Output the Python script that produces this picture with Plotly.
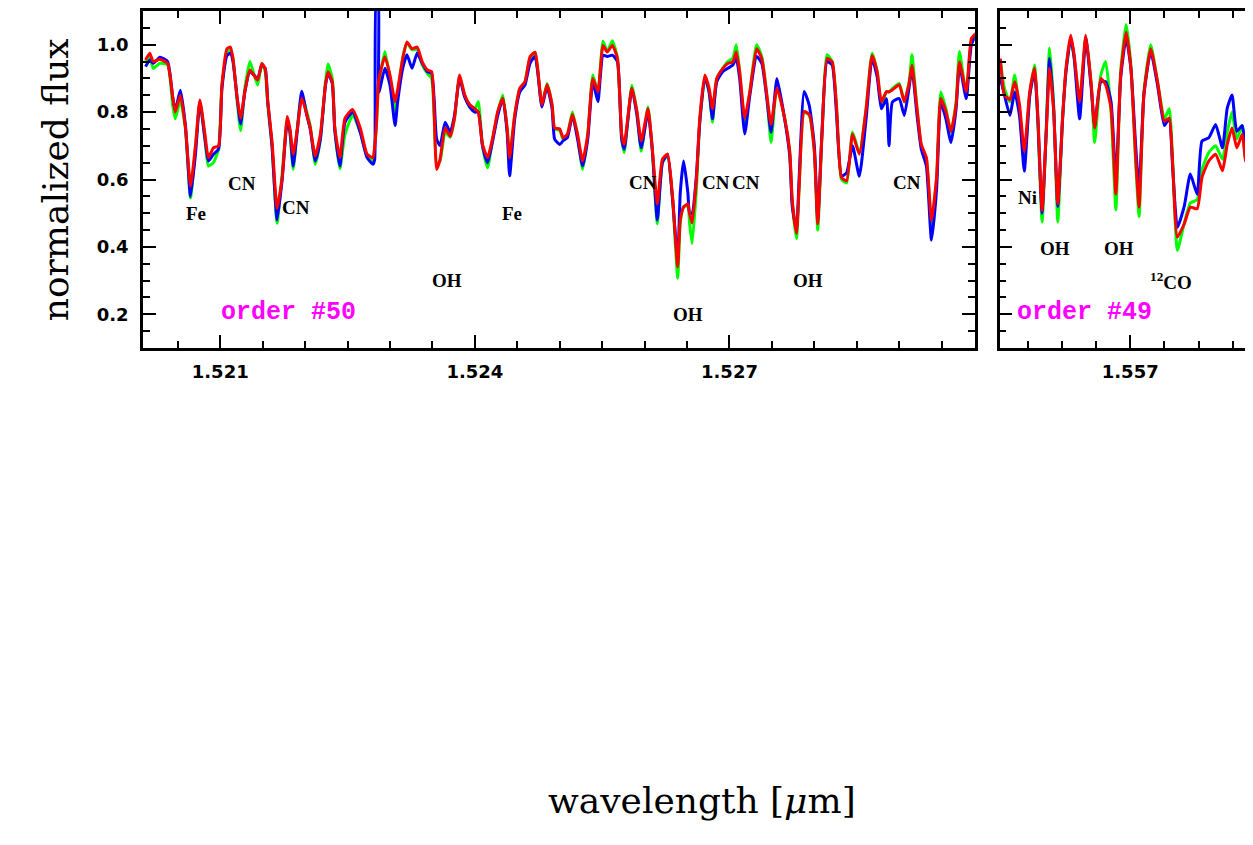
import plotly.graph_objects as go

# ---------------- order #50 ----------------
wl50 = [1.52012, 1.52017, 1.52021, 1.52029, 1.52038, 1.52044, 1.52047, 1.52053, 1.52059, 1.52065,
        1.52071, 1.52076, 1.52082, 1.52086, 1.52092, 1.52098, 1.52102, 1.52108, 1.52112, 1.52115,
        1.52120, 1.52124, 1.52129, 1.52135, 1.52144, 1.52149, 1.52153, 1.52156, 1.52161, 1.52167,
        1.52173, 1.52179, 1.52182, 1.52186, 1.52191, 1.52196, 1.52202, 1.52206, 1.52212, 1.52218,
        1.52224, 1.52227, 1.52232, 1.52235, 1.52241, 1.52247, 1.52256, 1.52265, 1.52273, 1.52280,
        1.52282, 1.52284, 1.52286, 1.52287, 1.52294, 1.52300, 1.52306, 1.52309, 1.52315, 1.52320,
        1.52326, 1.52332, 1.52338, 1.52344, 1.52349, 1.52352, 1.52355, 1.52359, 1.52365, 1.52371,
        1.52376, 1.52382, 1.52388, 1.52394, 1.52400, 1.52404, 1.52409, 1.52415, 1.52421, 1.52427,
        1.52433, 1.52438, 1.52441, 1.52447, 1.52453, 1.52459, 1.52465, 1.52471, 1.52474, 1.52479,
        1.52485, 1.52491, 1.52494, 1.52500, 1.52504, 1.52509, 1.52515, 1.52521, 1.52527, 1.52533,
        1.52539, 1.52545, 1.52551, 1.52556, 1.52562, 1.52568, 1.52573, 1.52576, 1.52585, 1.52591,
        1.52596, 1.52604, 1.52609, 1.52615, 1.52621, 1.52627, 1.52633, 1.52639, 1.52642, 1.52646,
        1.52651, 1.52653, 1.52656, 1.52661, 1.52665, 1.52671, 1.52676, 1.52680, 1.52685, 1.52692,
        1.52698, 1.52704, 1.52708, 1.52712, 1.52718, 1.52724, 1.52732, 1.52738, 1.52744, 1.52749,
        1.52756, 1.52765, 1.52771, 1.52774, 1.52779, 1.52782, 1.52788, 1.52794, 1.52800, 1.52804,
        1.52809, 1.52815, 1.52821, 1.52826, 1.52832, 1.52838, 1.52845, 1.52853, 1.52861, 1.52868,
        1.52874, 1.52879, 1.52885, 1.52888, 1.52892, 1.52900, 1.52906, 1.52912, 1.52915, 1.52921,
        1.52926, 1.52932, 1.52938, 1.52944, 1.52949, 1.52955, 1.52961, 1.52967, 1.52971, 1.52979,
        1.52985, 1.52991]

red50 = [0.955, 0.975, 0.950, 0.957, 0.944, 0.845, 0.800, 0.850, 0.755, 0.580,
         0.705, 0.836, 0.734, 0.665, 0.694, 0.700, 0.881, 0.988, 0.993, 0.959,
         0.841, 0.782, 0.861, 0.925, 0.895, 0.944, 0.929, 0.831, 0.714, 0.515,
         0.606, 0.787, 0.753, 0.675, 0.753, 0.841, 0.793, 0.753, 0.670, 0.734,
         0.881, 0.920, 0.890, 0.753, 0.665, 0.782, 0.808, 0.753, 0.675, 0.665,
         0.700, 0.760, 0.871, 0.900, 0.964, 0.910, 0.831, 0.866, 0.959, 1.008,
         0.988, 0.993, 0.949, 0.925, 0.920, 0.800, 0.630, 0.660, 0.753, 0.728,
         0.782, 0.910, 0.851, 0.822, 0.810, 0.800, 0.704, 0.665, 0.724, 0.802,
         0.841, 0.753, 0.665, 0.793, 0.871, 0.890, 0.964, 0.978, 0.930, 0.822,
         0.881, 0.822, 0.753, 0.750, 0.724, 0.734, 0.793, 0.734, 0.655, 0.734,
         0.900, 0.861, 0.998, 0.978, 0.998, 0.959, 0.734, 0.704, 0.871, 0.802,
         0.714, 0.810, 0.694, 0.528, 0.660, 0.675, 0.547, 0.341, 0.480, 0.518,
         0.528, 0.500, 0.470, 0.600, 0.782, 0.910, 0.871, 0.810, 0.900, 0.929,
         0.944, 0.949, 0.978, 0.920, 0.782, 0.861, 0.988, 0.959, 0.851, 0.763,
         0.871, 0.782, 0.684, 0.537, 0.440, 0.576, 0.802, 0.793, 0.684, 0.469,
         0.734, 0.959, 0.949, 0.822, 0.606, 0.596, 0.734, 0.675, 0.810, 0.968,
         0.920, 0.831, 0.861, 0.860, 0.866, 0.881, 0.831, 0.890, 0.939, 0.810,
         0.704, 0.665, 0.478, 0.606, 0.841, 0.802, 0.743, 0.822, 0.949, 0.861,
         1.018, 1.035]

green50 = [0.950, 0.965, 0.930, 0.945, 0.940, 0.820, 0.780, 0.835, 0.750, 0.545,
           0.700, 0.830, 0.720, 0.640, 0.650, 0.690, 0.880, 0.975, 0.985, 0.960,
           0.830, 0.745, 0.870, 0.950, 0.880, 0.945, 0.920, 0.820, 0.700, 0.470,
           0.620, 0.780, 0.740, 0.630, 0.760, 0.855, 0.800, 0.760, 0.645, 0.720,
           0.890, 0.943, 0.900, 0.750, 0.632, 0.734, 0.790, 0.740, 0.670, 0.655,
           0.700, 0.760, 0.870, 0.890, 0.980, 0.900, 0.800, 0.850, 0.960, 1.005,
           0.985, 0.985, 0.940, 0.915, 0.900, 0.790, 0.645, 0.655, 0.740, 0.725,
           0.780, 0.905, 0.850, 0.815, 0.810, 0.831, 0.700, 0.635, 0.720, 0.800,
           0.851, 0.750, 0.670, 0.790, 0.870, 0.890, 0.960, 0.975, 0.925, 0.820,
           0.885, 0.820, 0.750, 0.745, 0.720, 0.734, 0.800, 0.730, 0.630, 0.730,
           0.910, 0.860, 1.010, 0.980, 1.012, 0.960, 0.720, 0.680, 0.880, 0.800,
           0.684, 0.815, 0.690, 0.469, 0.650, 0.670, 0.540, 0.307, 0.470, 0.520,
           0.520, 0.470, 0.410, 0.570, 0.770, 0.900, 0.860, 0.770, 0.900, 0.930,
           0.950, 0.960, 1.000, 0.920, 0.770, 0.860, 1.000, 0.965, 0.850, 0.710,
           0.880, 0.780, 0.680, 0.530, 0.425, 0.570, 0.800, 0.790, 0.680, 0.450,
           0.730, 0.970, 0.950, 0.820, 0.600, 0.590, 0.740, 0.680, 0.810, 0.975,
           0.920, 0.820, 0.860, 0.860, 0.870, 0.885, 0.830, 0.895, 0.970, 0.810,
           0.700, 0.660, 0.470, 0.600, 0.860, 0.810, 0.740, 0.830, 0.980, 0.850,
           1.010, 1.030]

blue50 = [0.935, 0.955, 0.945, 0.963, 0.950, 0.845, 0.805, 0.865, 0.760, 0.550,
          0.680, 0.830, 0.720, 0.655, 0.675, 0.690, 0.870, 0.968, 0.975, 0.950,
          0.840, 0.765, 0.860, 0.920, 0.900, 0.940, 0.930, 0.830, 0.700, 0.480,
          0.600, 0.770, 0.745, 0.640, 0.750, 0.862, 0.790, 0.750, 0.655, 0.720,
          0.880, 0.915, 0.885, 0.745, 0.640, 0.770, 0.800, 0.740, 0.665, 0.645,
          0.660, 1.150, 1.150, 0.860, 0.930, 0.880, 0.760, 0.830, 0.930, 0.970,
          0.930, 0.975, 0.945, 0.920, 0.915, 0.840, 0.720, 0.700, 0.770, 0.740,
          0.790, 0.900, 0.845, 0.815, 0.800, 0.800, 0.700, 0.650, 0.715, 0.790,
          0.840, 0.740, 0.611, 0.780, 0.860, 0.880, 0.945, 0.965, 0.920, 0.815,
          0.875, 0.810, 0.720, 0.704, 0.715, 0.724, 0.790, 0.720, 0.640, 0.720,
          0.890, 0.831, 0.969, 0.965, 0.969, 0.950, 0.720, 0.690, 0.870, 0.790,
          0.694, 0.800, 0.690, 0.480, 0.650, 0.675, 0.540, 0.360, 0.560, 0.655,
          0.560, 0.500, 0.500, 0.610, 0.770, 0.905, 0.860, 0.780, 0.890, 0.920,
          0.930, 0.940, 0.960, 0.900, 0.735, 0.850, 0.965, 0.945, 0.840, 0.740,
          0.900, 0.780, 0.670, 0.520, 0.450, 0.600, 0.861, 0.820, 0.700, 0.480,
          0.740, 0.950, 0.940, 0.800, 0.610, 0.620, 0.700, 0.610, 0.780, 0.960,
          0.905, 0.810, 0.840, 0.700, 0.830, 0.840, 0.790, 0.880, 0.930, 0.790,
          0.690, 0.640, 0.420, 0.570, 0.830, 0.780, 0.710, 0.810, 0.940, 0.840,
          1.000, 1.030]

# ---------------- order #49 ----------------
wl49 = [1.55510, 1.55516, 1.55524, 1.55531, 1.55538, 1.55545, 1.55553, 1.55560, 1.55565, 1.55571,
        1.55577, 1.55582, 1.55588, 1.55594, 1.55601, 1.55606, 1.55613, 1.55618, 1.55626, 1.55635,
        1.55643, 1.55648, 1.55657, 1.55664, 1.55672, 1.55679, 1.55686, 1.55694, 1.55701, 1.55708,
        1.55713, 1.55720, 1.55730, 1.55740, 1.55750, 1.55757, 1.55762, 1.55769, 1.55779, 1.55788,
        1.55798, 1.55805, 1.55815, 1.55825, 1.55835, 1.55842, 1.55849, 1.55856, 1.55864, 1.55869,
        1.55875, 1.55883]

red49 = [0.959, 0.851, 0.837, 0.890, 0.822, 0.684, 0.861, 0.930, 0.782, 0.508,
         0.734, 0.930, 0.802, 0.528, 0.782, 0.930, 1.028, 0.969, 0.831, 1.028,
         0.881, 0.753, 0.900, 0.881, 0.810, 0.557, 0.910, 1.037, 0.930, 0.665,
         0.518, 0.851, 0.988, 0.890, 0.773, 0.782, 0.650, 0.429, 0.468, 0.518,
         0.513, 0.606, 0.655, 0.675, 0.626, 0.704, 0.753, 0.694, 0.734, 0.655,
         0.640, 0.630]

green49 = [0.950, 0.870, 0.830, 0.910, 0.800, 0.660, 0.850, 0.940, 0.760, 0.474,
           0.740, 0.990, 0.820, 0.474, 0.780, 0.920, 1.020, 0.960, 0.830, 1.020,
           0.880, 0.710, 0.910, 0.950, 0.800, 0.510, 0.920, 1.060, 0.940, 0.650,
           0.490, 0.860, 1.000, 0.890, 0.780, 0.810, 0.660, 0.390, 0.470, 0.530,
           0.540, 0.630, 0.680, 0.700, 0.660, 0.740, 0.800, 0.720, 0.760, 0.660,
           0.650, 0.640]

blue49 = [0.900, 0.850, 0.790, 0.860, 0.790, 0.625, 0.850, 0.920, 0.770, 0.500,
          0.740, 0.960, 0.810, 0.520, 0.780, 0.920, 1.020, 0.960, 0.780, 1.020,
          0.870, 0.760, 0.890, 0.890, 0.830, 0.600, 0.900, 1.020, 0.930, 0.700,
          0.570, 0.850, 0.980, 0.880, 0.760, 0.780, 0.640, 0.458, 0.520, 0.616,
          0.556, 0.714, 0.724, 0.763, 0.694, 0.812, 0.851, 0.743, 0.760, 0.680,
          0.650, 0.640]

# ---------------- labels ----------------
lab50_text = ["Fe", "CN", "CN", "OH", "Fe", "CN", "OH", "CN", "CN", "OH", "CN"]
lab50_x = [1.52071, 1.52126, 1.52189, 1.52367, 1.52444, 1.52598, 1.52651, 1.52684, 1.52720, 1.52792, 1.52909]
lab50_y = [0.499, 0.588, 0.518, 0.299, 0.499, 0.590, 0.199, 0.590, 0.590, 0.299, 0.590]

lab49_text = ["Ni", "OH", "OH", "<sup>12</sup>CO"]
lab49_x = [1.55549, 1.55590, 1.55683, 1.55759]
lab49_y = [0.546, 0.396, 0.396, 0.299]

order_text = ["order #50", "order #49"]
order_x = [1.52181, 1.55633]
order_y = [0.204, 0.204]

yticks = [0.2, 0.4, 0.6, 0.8, 1.0]

fig = go.Figure()
for wl, g, b, r, xa, ya in [(wl50, green50, blue50, red50, "x", "y"),
                            (wl49, green49, blue49, red49, "x2", "y2")]:
    for vals, col in [(g, "#00ff00"), (b, "#0000ff"), (r, "#ff0000")]:
        fig.add_trace(go.Scatter(x=wl, y=vals, mode="lines", xaxis=xa, yaxis=ya,
                                 line=dict(color=col, width=3, shape="spline", smoothing=0.5),
                                 showlegend=False, hoverinfo="skip"))

lab_font = dict(family="Liberation Serif", size=19, color="black", weight="bold")
for t, x, y in zip(lab50_text, lab50_x, lab50_y):
    fig.add_annotation(x=x, y=y, xref="x", yref="y", text=t, showarrow=False, font=lab_font)
for t, x, y in zip(lab49_text, lab49_x, lab49_y):
    fig.add_annotation(x=x, y=y, xref="x2", yref="y2", text=t, showarrow=False, font=lab_font)
order_font = dict(family="Liberation Mono", size=25, color="#ff00ff", weight="bold")
fig.add_annotation(x=order_x[0], y=order_y[0], xref="x", yref="y", text=order_text[0],
                   showarrow=False, font=order_font)
fig.add_annotation(x=order_x[1], y=order_y[1], xref="x2", yref="y2", text=order_text[1],
                   showarrow=False, font=order_font)

fig.add_annotation(x=-0.0984, y=0.5, xref="paper", yref="paper", text="normalized flux",
                   textangle=-90, showarrow=False,
                   font=dict(family="DejaVu Serif", size=36, color="black"))
fig.add_annotation(x=0.501, y=-1.41, xref="paper", yref="paper", text="wavelength [<i>μ</i>m]",
                   showarrow=False, font=dict(family="DejaVu Serif", size=36, color="black"))

tick_font = dict(family="DejaVu Sans", size=18, color="black", weight="bold")
common_x = dict(showline=True, linecolor="black", linewidth=2.5, mirror="allticks",
                ticks="inside", ticklen=13, tickwidth=2, tickcolor="black",
                tick0=1.521, dtick=0.003, tickformat=".3f", tickfont=tick_font,
                minor=dict(ticks="inside", ticklen=7, tickwidth=2, tickcolor="black", dtick=0.0005),
                showgrid=False, zeroline=False, ticklabelstandoff=6)
common_y = dict(showline=True, linecolor="black", linewidth=2.5, mirror="allticks",
                ticks="inside", ticklen=13, tickwidth=2, tickcolor="black",
                range=[0.1, 1.1], tickvals=yticks, tickformat=".1f", tickfont=tick_font,
                minor=dict(ticks="inside", ticklen=7, tickwidth=2, tickcolor="black", dtick=0.05),
                showgrid=False, zeroline=False, ticklabelstandoff=8)

fig.update_layout(
    width=1253, height=845,
    margin=dict(l=135, r=0, t=1, b=505),
    paper_bgcolor="white", plot_bgcolor="white",
    xaxis=dict(common_x, domain=[0, 0.74597], range=[1.52009, 1.52989]),
    yaxis=dict(common_y, anchor="x"),
    xaxis2=dict(common_x, domain=[0.76834, 1.0], range=[1.55509, 1.55887], anchor="y2"),
    yaxis2=dict(common_y, anchor="x2", showticklabels=False),
)

fig.write_html("out.html")
